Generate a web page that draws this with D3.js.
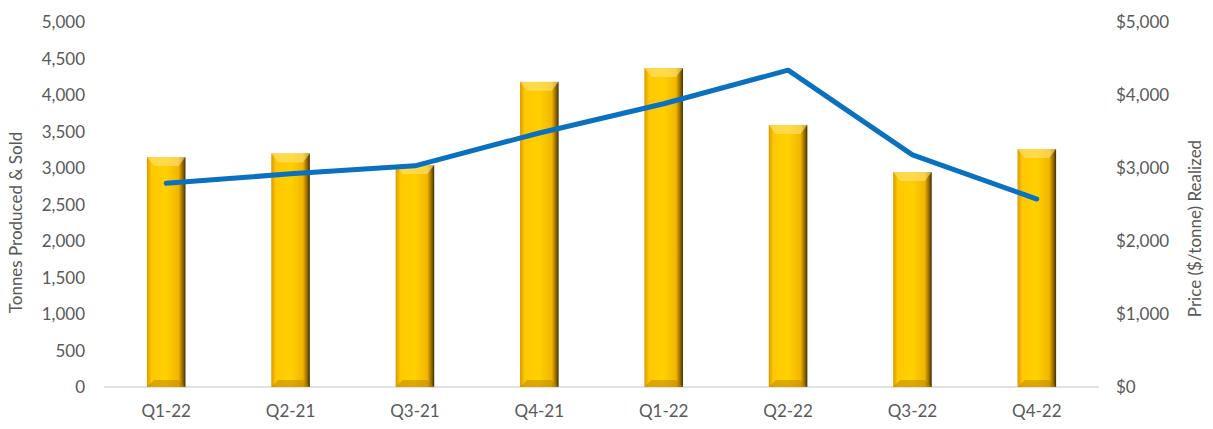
<!DOCTYPE html>
<html>
<head>
<meta charset="utf-8">
<script src="https://cdn.jsdelivr.net/npm/d3@7"></script>
<style>
  body { margin: 0; background: #fff; }
  text { font-family: Lato, "Open Sans", sans-serif; fill: #595959; }
</style>
</head>
<body>
<div id="chart"></div>
<script>
// Data
const quarters = ["Q1-22", "Q2-21", "Q3-21", "Q4-21", "Q1-22", "Q2-22", "Q3-22", "Q4-22"];
const tonnes = [3150, 3200, 3040, 4180, 4370, 3590, 2945, 3260];
const price = [2790, 2920, 3030, 3480, 3880, 4340, 3180, 2575];
const leftTicks = [0, 500, 1000, 1500, 2000, 2500, 3000, 3500, 4000, 4500, 5000];
const rightTicks = [0, 1000, 2000, 3000, 4000, 5000];

const W = 1213, H = 429;
const plot = { left: 104, right: 1099, top: 22, bottom: 387 };

const svg = d3.select("#chart").append("svg")
    .attr("width", W).attr("height", H);

const defs = svg.append("defs");
const grad = defs.append("linearGradient").attr("id", "gold")
    .attr("x1", "0%").attr("x2", "100%").attr("y1", "0%").attr("y2", "0%");
grad.append("stop").attr("offset", "0%").attr("stop-color", "#d99a00");
grad.append("stop").attr("offset", "12%").attr("stop-color", "#ffc800");
grad.append("stop").attr("offset", "50%").attr("stop-color", "#ffd000");
grad.append("stop").attr("offset", "82%").attr("stop-color", "#f2b600");
grad.append("stop").attr("offset", "94%").attr("stop-color", "#8a6200");
grad.append("stop").attr("offset", "100%").attr("stop-color", "#3d2c00");

const shadow = defs.append("linearGradient").attr("id", "shade")
    .attr("x1", "0%").attr("x2", "100%");
shadow.append("stop").attr("offset", "0%").attr("stop-color", "#777").attr("stop-opacity", 0.55);
shadow.append("stop").attr("offset", "100%").attr("stop-color", "#bbb").attr("stop-opacity", 0);

// Scales
const x = d3.scaleBand().domain(d3.range(quarters.length))
    .range([plot.left, plot.right]).paddingInner(0.69).paddingOuter(0.345);
const yL = d3.scaleLinear().domain([0, 5000]).range([plot.bottom, plot.top]);
const yR = d3.scaleLinear().domain([0, 5000]).range([plot.bottom, plot.top]);

// Baseline
svg.append("line")
    .attr("x1", plot.left).attr("x2", plot.right)
    .attr("y1", plot.bottom).attr("y2", plot.bottom)
    .attr("stroke", "#d9d9d9").attr("stroke-width", 1.5);

// Left axis
const axL = svg.append("g").attr("transform", `translate(${plot.left - 16},0)`)
    .call(d3.axisLeft(yL).tickValues(leftTicks).tickSize(0).tickFormat(d3.format(",")));
axL.select(".domain").remove();
axL.selectAll("text").attr("font-size", 17).attr("dx", 0).attr("dy", "0.35em");

// Right axis
const axR = svg.append("g").attr("transform", `translate(${plot.right + 14},0)`)
    .call(d3.axisRight(yR).tickValues(rightTicks).tickSize(0).tickFormat(d => "$" + d3.format(",")(d)));
axR.select(".domain").remove();
axR.selectAll("text").attr("font-size", 17).attr("dy", "0.35em");

// Category labels
svg.append("g").selectAll("text").data(quarters).join("text")
    .attr("x", (d, i) => x(i) + x.bandwidth() / 2)
    .attr("y", 417)
    .attr("text-anchor", "middle")
    .attr("font-size", 17)
    .text(d => d);

// Bars
const bars = svg.append("g").selectAll("g").data(tonnes).join("g");
bars.append("rect")
    .attr("x", (d, i) => x(i) + 3)
    .attr("y", d => yL(d) + 3)
    .attr("width", x.bandwidth())
    .attr("height", d => plot.bottom - yL(d) - 3)
    .attr("fill", "url(#shade)");
bars.append("rect")
    .attr("x", (d, i) => x(i))
    .attr("y", d => yL(d))
    .attr("width", x.bandwidth())
    .attr("height", d => plot.bottom - yL(d))
    .attr("fill", "url(#gold)");
// top bevel highlight
bars.append("path")
    .attr("d", (d, i) => {
        const x0 = x(i), x1 = x(i) + x.bandwidth(), y0 = yL(d);
        return `M${x0},${y0}L${x1},${y0}L${x1 - 7},${y0 + 9}L${x0 + 7},${y0 + 9}Z`;
    })
    .attr("fill", "#ffe27a").attr("opacity", 0.6);
// bottom bevel
bars.append("path")
    .attr("d", (d, i) => {
        const x0 = x(i), x1 = x(i) + x.bandwidth(), y0 = plot.bottom;
        return `M${x0},${y0}L${x1},${y0}L${x1 - 7},${y0 - 7}L${x0 + 7},${y0 - 7}Z`;
    })
    .attr("fill", "#b88400").attr("opacity", 0.5);

// Price line
const line = d3.line()
    .x((d, i) => x(i) + x.bandwidth() / 2)
    .y(d => yR(d));
svg.append("path")
    .datum(price)
    .attr("d", line)
    .attr("fill", "none")
    .attr("stroke", "#0a70c0")
    .attr("stroke-width", 5)
    .attr("stroke-linejoin", "round")
    .attr("stroke-linecap", "round");

// Axis titles
svg.append("text")
    .attr("transform", `translate(22,${(plot.top + plot.bottom) / 2 + 18}) rotate(-90)`)
    .attr("text-anchor", "middle")
    .attr("font-size", 17)
    .text("Tonnes Produced & Sold");
svg.append("text")
    .attr("transform", `translate(1201,${(plot.top + plot.bottom) / 2 + 24}) rotate(-90)`)
    .attr("text-anchor", "middle")
    .attr("font-size", 17)
    .text("Price ($/tonne) Realized");
</script>
</body>
</html>
